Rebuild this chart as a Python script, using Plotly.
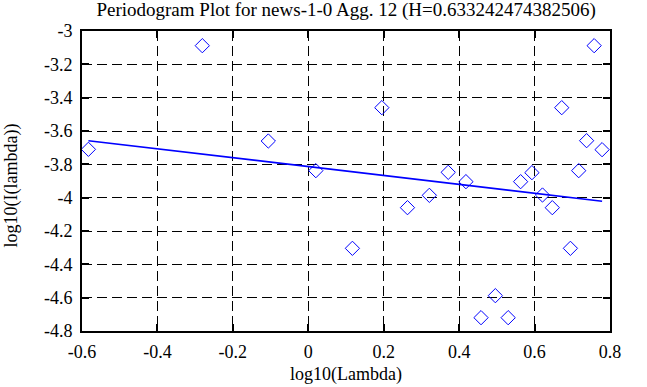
import plotly.graph_objects as go

# Periodogram points (log10 frequency, log10 power)
log_lambda = [-0.583, -0.281, -0.106, 0.020, 0.117, 0.195, 0.263, 0.321, 0.371, 0.418,
              0.458, 0.496, 0.530, 0.563, 0.593, 0.621, 0.647, 0.672, 0.695, 0.717,
              0.738, 0.758, 0.779]
log_I = [-3.710, -3.088, -3.660, -3.838, -4.304, -3.460, -4.060, -3.986, -3.848, -3.904,
         -4.720, -4.588, -4.720, -3.904, -3.850, -3.984, -4.060, -3.460, -4.304, -3.838,
         -3.658, -3.088, -3.712]

# Least-squares fit line endpoints
fit_x = [-0.583, 0.779]
fit_y = [-3.658, -4.021]

x_ticks = [-0.6, -0.4, -0.2, 0, 0.2, 0.4, 0.6, 0.8]
x_tick_text = ["-0.6", "-0.4", "-0.2", "0", "0.2", "0.4", "0.6", "0.8"]
y_ticks = [-3, -3.2, -3.4, -3.6, -3.8, -4, -4.2, -4.4, -4.6, -4.8]
y_tick_text = ["-3", "-3.2", "-3.4", "-3.6", "-3.8", "-4", "-4.2", "-4.4", "-4.6", "-4.8"]

title = "Periodogram Plot for news-1-0 Agg. 12 (H=0.633242474382506)"
x_title = "log10(Lambda)"
y_title = "log10(I(lambda))"

font = "Liberation Serif, Times New Roman, serif"

fig = go.Figure()
fig.add_trace(go.Scatter(
    x=log_lambda, y=log_I, mode="markers",
    marker=dict(symbol="diamond-open", size=11, color="#0000ff", line=dict(width=1, color="#0000ff")),
    showlegend=False, cliponaxis=False))
fig.add_trace(go.Scatter(
    x=fit_x, y=fit_y, mode="lines",
    line=dict(color="#0000ff", width=1.6),
    showlegend=False))

axis_common = dict(
    showline=True, linecolor="black", linewidth=2, mirror="allticks",
    ticks="inside", ticklen=7, tickwidth=2, tickcolor="black",
    showgrid=True, gridcolor="black", gridwidth=1, griddash="10px,5px",
    zeroline=False, automargin=False,
    tickfont=dict(family=font, size=18, color="black"),
)

fig.update_layout(
    width=647, height=387,
    margin=dict(l=82, r=37, t=31, b=56),
    paper_bgcolor="white", plot_bgcolor="white",
    font=dict(family=font, size=18, color="black"),
    title=dict(text=title, x=0.535, xanchor="center", y=0.977, yanchor="middle",
               font=dict(family=font, size=19, color="black")),
    xaxis=dict(range=[-0.6, 0.8], tickvals=x_ticks, ticktext=x_tick_text,
               ticklabelstandoff=3, **axis_common),
    yaxis=dict(range=[-4.8, -3], tickvals=y_ticks, ticktext=y_tick_text,
               ticklabelstandoff=4, **axis_common),
    annotations=[
        dict(text=x_title, xref="paper", yref="paper", x=0.5, y=0,
             xanchor="center", yanchor="top", yshift=-31, showarrow=False,
             font=dict(family=font, size=18, color="black")),
        dict(text=y_title, xref="paper", yref="paper", x=0, y=0.485,
             xanchor="center", yanchor="middle", xshift=-71, textangle=-90,
             showarrow=False, font=dict(family=font, size=18, color="black")),
    ],
)

fig.write_html("out.html", config={"displayModeBar": False},
               post_script="document.body.style.margin='0px';")
